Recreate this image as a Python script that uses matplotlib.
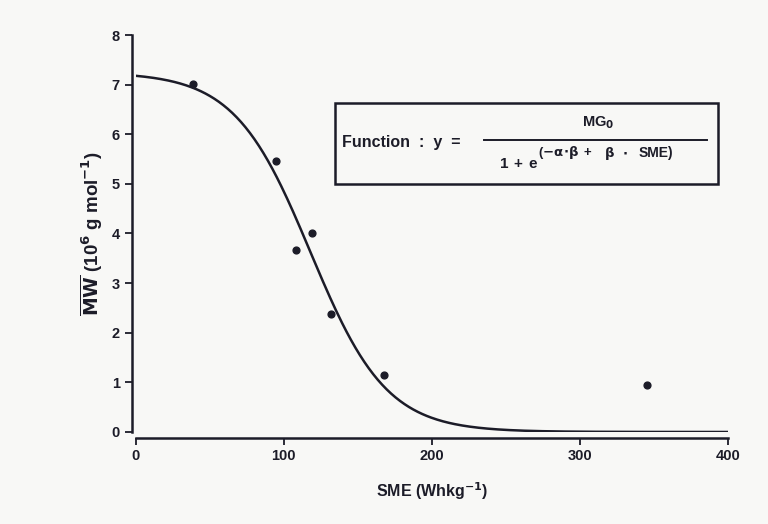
import numpy as np
import matplotlib.pyplot as plt

sme = [38.5, 94.5, 108, 119, 132, 168, 345]
mw = [7.02, 5.47, 3.67, 4.02, 2.38, 1.15, 0.94]

# fitted logistic: y = MG0 / (1 + exp(-alpha*beta + beta*SME))
mg0 = 7.25
alpha = 118.0
beta = 0.039

x_ticks = [0, 100, 200, 300, 400]
y_ticks = [0, 1, 2, 3, 4, 5, 6, 7, 8]

ink = '#1c1c28'
plt.rcParams['font.family'] = ['Liberation Sans', 'DejaVu Sans']
plt.rcParams['font.weight'] = 'bold'
plt.rcParams['mathtext.default'] = 'bf'

fig = plt.figure(figsize=(7.68, 5.24), dpi=100, facecolor='#f8f8f6')
ax = fig.add_axes([0.1767, 0.1756, 0.7713, 0.7576])
ax.set_facecolor('#f8f8f6')

s = np.linspace(0, 400, 400)
fit = mg0 / (1 + np.exp(-alpha * beta + beta * s))
ax.plot(s, fit, color=ink, lw=1.8, zorder=2)
ax.scatter(sme, mw, s=24, color=ink, zorder=3)

ax.set_xlim(0, 400)
ax.set_ylim(0, 8)
ax.set_xticks(x_ticks)
ax.set_yticks(y_ticks)
ax.tick_params(colors=ink, width=1.3, length=5, labelsize=10.5)
for lab in ax.get_xticklabels() + ax.get_yticklabels():
    lab.set_fontweight('bold')

for side in ['top', 'right']:
    ax.spines[side].set_visible(False)
ax.spines['bottom'].set_position(('outward', 4))
ax.spines['left'].set_position(('outward', 3))
for side in ['bottom', 'left']:
    ax.spines[side].set_linewidth(1.8)
    ax.spines[side].set_color(ink)

ax.set_xlabel('SME (Whkg$^{-1}$)', fontsize=11.5, fontweight='bold', color=ink, labelpad=12)
ax.set_ylabel(r'$\overline{MW}$ (10$^6$ g mol$^{-1}$)', fontsize=13.5,
              fontweight='bold', color=ink, labelpad=5)

# function box
box = plt.Rectangle((134.5, 5.0), 258.4, 1.63, fill=False, lw=1.8,
                    edgecolor=ink, zorder=4)
ax.add_patch(box)
txt = dict(fontweight='bold', color=ink, va='center')
ax.text(139.5, 5.84, 'Function  :  y  =', fontsize=11.5, ha='left', **txt)
ax.plot([235.5, 386], [5.89, 5.89], color=ink, lw=1.4)
ax.text(312.5, 6.24, r'MG$_0$', fontsize=10.5, ha='center', **txt)
ax.text(249, 5.4, '1', fontsize=11, ha='center', **txt)
ax.text(258, 5.4, '+', fontsize=11, ha='center', **txt)
ax.text(268, 5.4, 'e', fontsize=11, ha='center', **txt)
ax.text(271.5, 5.64, r'($-\alpha\!\cdot\!\beta$', fontsize=9.5, ha='left', **txt)
ax.text(305, 5.62, '+', fontsize=9.5, ha='center', **txt)
ax.text(320, 5.62, r'$\beta$', fontsize=9.5, ha='center', **txt)
ax.text(330, 5.62, r'$\cdot$', fontsize=9.5, ha='center', **txt)
ax.text(339.5, 5.62, 'SME)', fontsize=10, ha='left', **txt)

fig.savefig('out.png', dpi=100, facecolor=fig.get_facecolor())
